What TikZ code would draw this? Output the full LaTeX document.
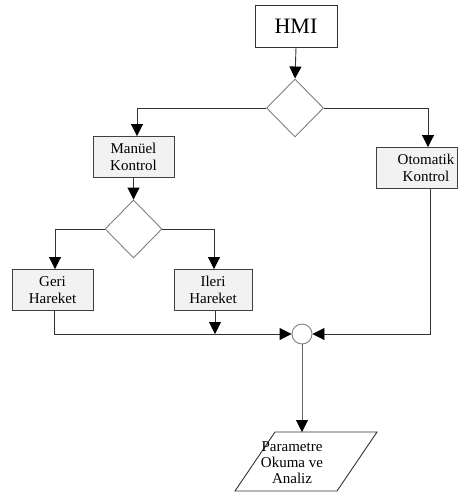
\documentclass[tikz,border=0pt]{standalone}
\usepackage{fontspec}
\setmainfont{Liberation Serif}
\newfontfamily\lser{Liberation Serif}
\usetikzlibrary{arrows.meta,shapes.geometric,calc}
\begin{document}
\begin{tikzpicture}[x=1pt,y=-1pt,
  box/.style={draw=black!75,fill=black!5,line width=0.9pt,minimum width=81pt,minimum height=41pt,inner sep=0pt,align=center,font=\lser\fontsize{15}{16.5}\selectfont},
  dec/.style={draw=black!50,fill=white,line width=0.9pt,diamond,aspect=1,minimum width=57pt,minimum height=58pt,inner sep=0pt},
  conn/.style={draw=black!80,line width=0.9pt},
  arr/.style={conn,-{Triangle[width=12pt,length=12pt,color=black]}}]
\useasboundingbox (0,0) rectangle (470,493);
\node[draw=black!80,fill=white,line width=0.9pt,minimum width=82pt,minimum height=42pt,inner sep=0pt,font=\lser\fontsize{22}{24}\selectfont] (hmi) at (296,26) {HMI};
\node[dec] (d1) at (295,108) {};
\node[box] (man) at (133.5,157) {Manüel\\Kontrol};
\node[box] (oto) at (416.5,168) {};
\node[inner sep=0pt,align=center,font=\lser\fontsize{15}{16.5}\selectfont] (otot) at (426,168) {Otomatik\\Kontrol};
\node[dec] (d2) at (133.5,229) {};
\node[box] (geri) at (52.5,290) {Geri\\Hareket};
\node[box,minimum width=78pt] (ileri) at (213,290) {Ileri\\Hareket};
\node[draw=black!50,fill=white,line width=0.9pt,circle,minimum size=20pt,inner sep=0pt] (circ) at (302,334) {};
\draw[draw=black!80,fill=white,line width=0.9pt] (275,432) -- (377,432) -- (337,491) -- (235,491) -- cycle;
\node[align=center,font=\lser\fontsize{15}{16}\selectfont,inner sep=0pt] (par) at (292,463) {Parametre\\Okuma ve\\Analiz};
\coordinate (partop) at (302,432);
\coordinate (ilin) at (215,334);
% connectors
\draw[arr] (hmi.south) -- (d1.north);
\draw[arr] (d1.west) -| ($(man.north)+(3.5,0)$);
\draw[arr] (d1.east) -| ($(oto.north)+(11.5,0)$);
\draw[arr] (man.south) -- (d2.north);
\draw[arr] (d2.west) -| ($(geri.north)+(2.5,0)$);
\draw[arr] (d2.east) -| ($(ileri.north)+(1,0)$);
\draw[arr] ($(geri.south)+(1.5,0)$) |- (circ.west);
\draw[arr] ($(ileri.south)+(2,0)$) -- (ilin);
\draw[arr] ($(oto.south)+(13.5,0)$) |- (circ.east);
\draw[arr,draw=black!60] (circ.south) -- (partop);
\end{tikzpicture}
\end{document}
